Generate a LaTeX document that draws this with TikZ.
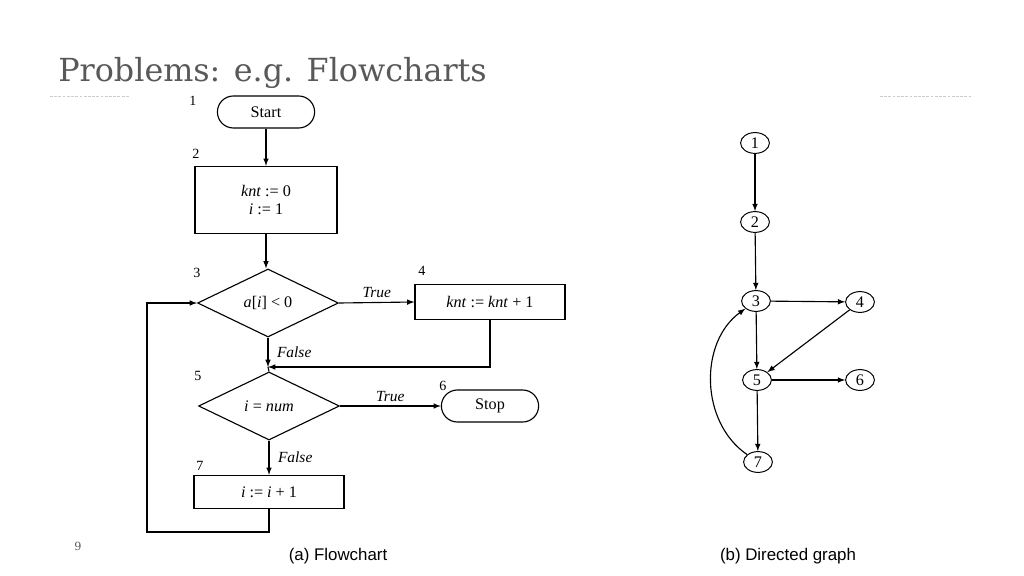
\documentclass[tikz,border=0pt]{standalone}
\usepackage{fontspec}
\setmainfont{Liberation Serif}
\newfontfamily\titlefont{DejaVu Serif}
\newfontfamily\capfont{Liberation Sans}
\usetikzlibrary{shapes.geometric}
\definecolor{titlegray}{HTML}{595959}
\tikzstyle{terminal}=[shape = rectangle, rounded corners = 0.4cm, minimum width = 2.43cm, minimum height = 0.8cm, draw, line width = 0.8pt, font = \fontsize{11.5}{13}\selectfont]
\tikzstyle{process}=[shape = rectangle, draw, line width = 0.8pt, inner sep = 1pt, font = \fontsize{11.5}{13}\selectfont]
\tikzstyle{decision}=[shape = diamond, draw, line width = 0.8pt, minimum width = 3.52cm, minimum height = 1.7cm, inner sep = 0pt, font = \fontsize{11.5}{13}\selectfont]
\tikzstyle{stepnum}=[inner sep = 0pt, font = \fontsize{10}{11}\selectfont]
\tikzstyle{branch}=[inner sep = 0pt, font = \itshape\fontsize{11}{12}\selectfont]
\tikzstyle{graphnode}=[shape = ellipse, draw, line width = 0.7pt, minimum width = 0.72cm, minimum height = 0.52cm, inner sep = 0pt, font = \fontsize{11.5}{13}\selectfont]
\tikzstyle{flow}=[-latex, line width = 0.8pt]
\tikzstyle{caption}=[inner sep = 0pt, font = \capfont\fontsize{12}{14}\selectfont]

\begin{document}
\begin{tikzpicture}[x = 0.025cm, y = -0.025cm]
\useasboundingbox (0,0) rectangle (1024,576);
\node[anchor = base west, inner sep = 0pt, text = titlegray, font = \titlefont\fontsize{22.6}{26}\selectfont] (title) at (58,82) {Problems: e.g. Flowcharts};
\draw[gray!40, dash pattern = on 2pt off 1pt, line width = 0.6pt] (50,96) -- (130,96);
\draw[gray!40, dash pattern = on 2pt off 1pt, line width = 0.6pt] (880,96) -- (972,96);
\node[inner sep = 0pt, text = titlegray, font = \titlefont\fontsize{8}{9}\selectfont] (pagenum) at (78,546) {9};

% flowchart
\node[terminal] (start) at (266,112) {Start};
\node[process, minimum width = 3.55cm, minimum height = 1.68cm, align = center] (b2) at (266,200) {\textit{knt} := 0\\\textit{i} := 1};
\node[decision] (d3) at (268,303) {\textit{a}[\textit{i}] < 0};
\node[process, minimum width = 3.75cm, minimum height = 0.875cm] (b4) at (490,302) {\textit{knt} := \textit{knt} + 1};
\node[decision] (d5) at (269,406) {\textit{i} = \textit{num}};
\node[terminal] (stop) at (490,406) {Stop};
\node[process, minimum width = 3.75cm, minimum height = 0.83cm] (b7) at (269,492) {\textit{i} := \textit{i} + 1};
\coordinate (join) at (268,367);
\coordinate (loop) at (147,532);

\node[stepnum] (n1) at (193,101) {1};
\node[stepnum] (n2) at (196,154) {2};
\node[stepnum] (n3) at (197,273) {3};
\node[stepnum] (n4) at (422,271) {4};
\node[stepnum] (n5) at (198,376) {5};
\node[stepnum] (n6) at (443,386) {6};
\node[stepnum] (n7) at (200,466) {7};

\draw[flow] (start) -- (b2);
\draw[flow] (b2.south) -- (b2.south |- d3.north);
\draw[flow] (d3.east) -- (b4.west) node[branch, midway, above = 3pt] (t3) {True};
\draw[flow] (d3.south) -- (join) node[branch, midway, right = 6pt] (f3) {False};
\draw[flow] (b4.south) |- (join);
\draw[line width = 0.8pt] (join) -- (d5.north);
\draw[flow] (d5.east) -- (stop.west) node[branch, midway, above = 3pt] (t5) {True};
\draw[flow] (d5.south) -- (b7.north) node[branch, midway, right = 6pt] (f5) {False};
\draw[flow] (b7.south) |- (loop) |- (d3.west);
\node[caption] (capa) at (338,556) {(a) Flowchart};

% directed graph
\node[graphnode] (g1) at (755,143) {1};
\node[graphnode] (g2) at (755,222) {2};
\node[graphnode] (g3) at (756,301) {3};
\node[graphnode] (g4) at (860,302) {4};
\node[graphnode] (g5) at (757,380) {5};
\node[graphnode] (g6) at (860,380) {6};
\node[graphnode] (g7) at (758,462) {7};
\draw[flow] (g1) -- (g2);
\draw[flow] (g2) -- (g3);
\draw[flow] (g3) -- (g4);
\draw[flow] (g3) -- (g5);
\draw[flow] (g4) -- (g5);
\draw[flow] (g5) -- (g6);
\draw[flow] (g5) -- (g7);
\draw[flow] (g7) to[bend left = 55] (g3);
\node[caption] (capb) at (788,556) {(b) Directed graph};
\end{tikzpicture}
\end{document}
